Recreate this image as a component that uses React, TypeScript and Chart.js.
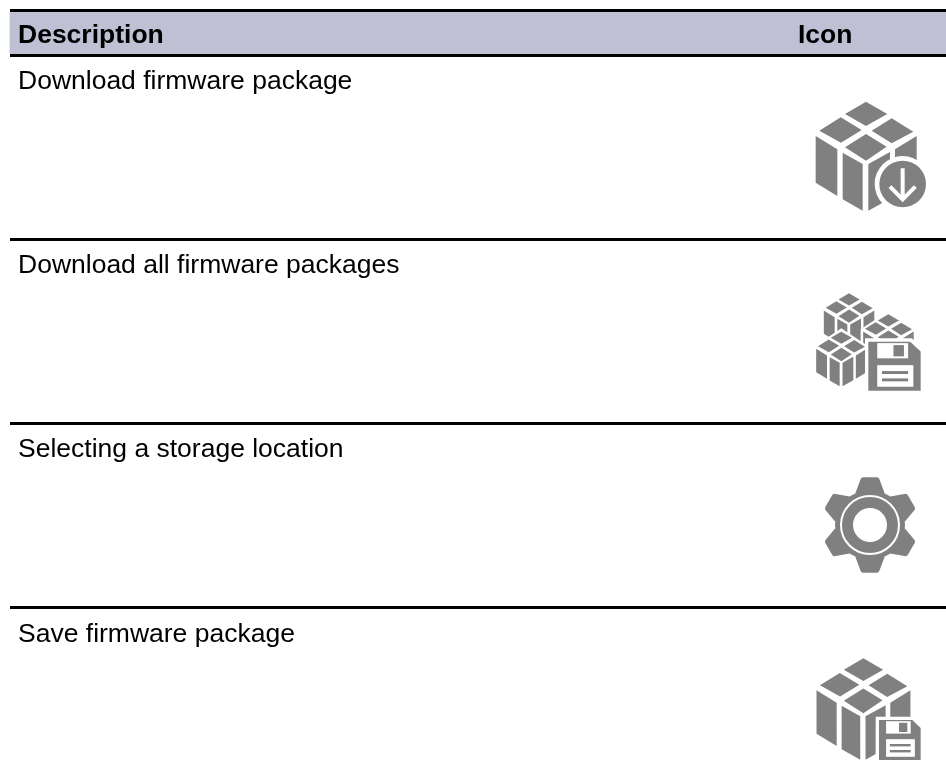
import React, { useEffect, useRef } from "react";
import { Chart, registerables } from "chart.js";

Chart.register(...registerables);

const headers = ["Description", "Icon"];
const descriptions = [
  "Download firmware package",
  "Download all firmware packages",
  "Selecting a storage location",
  "Save firmware package",
];
const iconKinds = ["packageDownload", "packagesSave", "gear", "packageSave"];
const rowBaselines = [89, 273, 457, 642];
const ruleYs = [10.5, 55.5, 239.5, 423.5, 607.5];
const iconCenterYs = [155, 345, 525, 705];

const GRAY = "#808080";

type Pt = [number, number];

function poly(c: CanvasRenderingContext2D, pts: Pt[], fill: string) {
  c.fillStyle = fill;
  c.beginPath();
  pts.forEach((p, i) => (i ? c.lineTo(p[0], p[1]) : c.moveTo(p[0], p[1])));
  c.closePath();
  c.fill();
}

// Cube in the icon's own drawing units, apex at (258,35)
function cube(c: CanvasRenderingContext2D, cx: number, top: number, s: number) {
  const m = (p: Pt): Pt => [cx + (p[0] - 258) * s, top + (p[1] - 35) * s];
  poly(c, ([[258, 15], [425, 125], [425, 290], [258, 380], [92, 290], [92, 125]] as Pt[]).map(m), "#fff");
  const parts: Pt[][] = [
    [[258, 35], [322, 72], [258, 108], [195, 72]],
    [[182, 82], [245, 120], [183, 158], [118, 122]],
    [[335, 85], [400, 125], [335, 160], [275, 122]],
    [[258, 132], [320, 170], [258, 212], [195, 172]],
    [[107, 138], [172, 178], [172, 318], [107, 278]],
    [[188, 188], [248, 222], [248, 362], [188, 328]],
    [[265, 222], [330, 186], [330, 326], [265, 362]],
    [[345, 178], [410, 138], [410, 278], [345, 318]],
  ];
  parts.forEach((p) => poly(c, p.map(m), GRAY));
}

function rect(c: CanvasRenderingContext2D, x0: number, y0: number, x1: number, y1: number, fill: string) {
  c.fillStyle = fill;
  c.fillRect(x0, y0, x1 - x0, y1 - y0);
}

function floppy(c: CanvasRenderingContext2D, x0: number, y0: number, x1: number, y1: number) {
  const w = x1 - x0;
  const h = y1 - y0;
  const hal = 10;
  poly(c, [[x0 - hal, y0 - hal], [x1 - 0.2 * w + 5, y0 - hal], [x1 + hal, y0 + 0.2 * h - 5], [x1 + hal, y1 + hal], [x0 - hal, y1 + hal]], "#fff");
  poly(c, [[x0, y0], [x1 - 0.2 * w, y0], [x1, y0 + 0.2 * h], [x1, y1], [x0, y1]], GRAY);
  rect(c, x0 + 0.17 * w, y0 + 0.03 * h, x1 - 0.24 * w, y0 + 0.34 * h, "#fff");
  rect(c, x0 + 0.48 * w, y0 + 0.07 * h, x0 + 0.68 * w, y0 + 0.3 * h, GRAY);
  rect(c, x0 + 0.17 * w, y0 + 0.48 * h, x1 - 0.14 * w, y1 - 0.08 * h, "#fff");
  rect(c, x0 + 0.26 * w, y0 + 0.6 * h, x1 - 0.24 * w, y0 + 0.66 * h, GRAY);
  rect(c, x0 + 0.26 * w, y0 + 0.75 * h, x1 - 0.24 * w, y0 + 0.81 * h, GRAY);
}

function gear(c: CanvasRenderingContext2D, cx: number, cy: number) {
  c.fillStyle = GRAY;
  c.beginPath();
  c.arc(cx, cy, 105, 0, Math.PI * 2);
  c.fill();
  for (let i = 0; i < 6; i++) {
    c.save();
    c.translate(cx, cy);
    c.rotate((i * Math.PI) / 3);
    c.beginPath();
    c.moveTo(-44, -95);
    c.lineTo(-27, -140);
    c.lineTo(-22, -143);
    c.lineTo(22, -143);
    c.lineTo(27, -140);
    c.lineTo(44, -95);
    c.closePath();
    c.fill();
    c.restore();
  }
  c.strokeStyle = "#fff";
  c.lineWidth = 6;
  c.beginPath();
  c.arc(cx, cy, 87, 0, Math.PI * 2);
  c.stroke();
  c.fillStyle = "#fff";
  c.beginPath();
  c.arc(cx, cy, 51, 0, Math.PI * 2);
  c.fill();
}

function makeIcon(kind: string): HTMLCanvasElement {
  const cv = document.createElement("canvas");
  cv.width = 166;
  cv.height = 130;
  const c = cv.getContext("2d")!;
  c.filter = "blur(0.45px)";
  c.scale(1 / 3, 1 / 3);
  if (kind === "packageDownload") {
    cube(c, 258, 35, 1);
    c.fillStyle = "#fff";
    c.beginPath();
    c.arc(368, 282, 84, 0, Math.PI * 2);
    c.fill();
    c.fillStyle = GRAY;
    c.beginPath();
    c.arc(368, 282, 70, 0, Math.PI * 2);
    c.fill();
    c.strokeStyle = "#fff";
    c.lineWidth = 12;
    c.beginPath();
    c.moveTo(368, 235);
    c.lineTo(368, 325);
    c.moveTo(330, 290);
    c.lineTo(368, 328);
    c.lineTo(406, 290);
    c.stroke();
  } else if (kind === "packagesSave") {
    cube(c, 207, 40, 0.5);
    cube(c, 325, 103, 0.5);
    cube(c, 184, 155, 0.5);
    floppy(c, 265, 185, 422, 332);
  } else if (kind === "gear") {
    gear(c, 270, 195);
  } else {
    cube(c, 250, 55, 0.93);
    floppy(c, 297, 240, 422, 360);
  }
  return cv;
}

const tablePlugin = {
  id: "tableText",
  afterDatasetsDraw(chart: any) {
    const { ctx, scales } = chart;
    const x = scales.x;
    const y = scales.y;
    ctx.save();
    ctx.fillStyle = "#000";
    ctx.textBaseline = "alphabetic";
    ctx.font = 'bold 26.5px "Liberation Sans", Arial, sans-serif';
    ctx.textAlign = "left";
    ctx.fillText(headers[0], x.getPixelForValue(18), y.getPixelForValue(43));
    ctx.fillText(headers[1], x.getPixelForValue(798), y.getPixelForValue(43));
    ctx.font = '26.5px "Liberation Sans", Arial, sans-serif';
    descriptions.forEach((d, i) => {
      ctx.fillText(d, x.getPixelForValue(18), y.getPixelForValue(rowBaselines[i]));
    });
    ctx.restore();
  },
};

export default function App() {
  const ref = useRef<HTMLCanvasElement>(null);
  useEffect(() => {
    const icons = iconKinds.map(makeIcon);
    const ruleDatasets = ruleYs.map((ry) => ({
      type: "line" as const,
      data: [{ x: 10, y: ry }, { x: 946, y: ry }],
      borderColor: "#000",
      borderWidth: 3,
      pointRadius: 0,
      order: 1,
    }));
    const chart = new Chart(ref.current!, {
      type: "scatter",
      data: {
        datasets: [
          {
            type: "bar" as const,
            data: [{ x: 478, y: [12, 54] }] as any,
            backgroundColor: "#bfc0d4",
            barThickness: 936,
            order: 3,
          },
          ...ruleDatasets,
          {
            type: "scatter" as const,
            data: iconCenterYs.map((cy) => ({ x: 863, y: cy })),
            pointStyle: icons as any,
            pointRadius: 40,
            order: 0,
          },
        ] as any,
      },
      options: {
        animation: false,
        responsive: false,
        layout: { padding: 0, autoPadding: false },
        plugins: { legend: { display: false }, tooltip: { enabled: false }, title: { display: false } },
        scales: {
          x: { type: "linear", min: 0, max: 946, display: false, offset: false },
          y: { type: "linear", min: 0, max: 784, reverse: true, display: false, offset: false },
        },
      },
      plugins: [tablePlugin],
    });
    return () => chart.destroy();
  }, []);
  return <canvas ref={ref} width={946} height={784} style={{ position: "absolute", left: 0, top: 0, display: "block" }} />;
}
